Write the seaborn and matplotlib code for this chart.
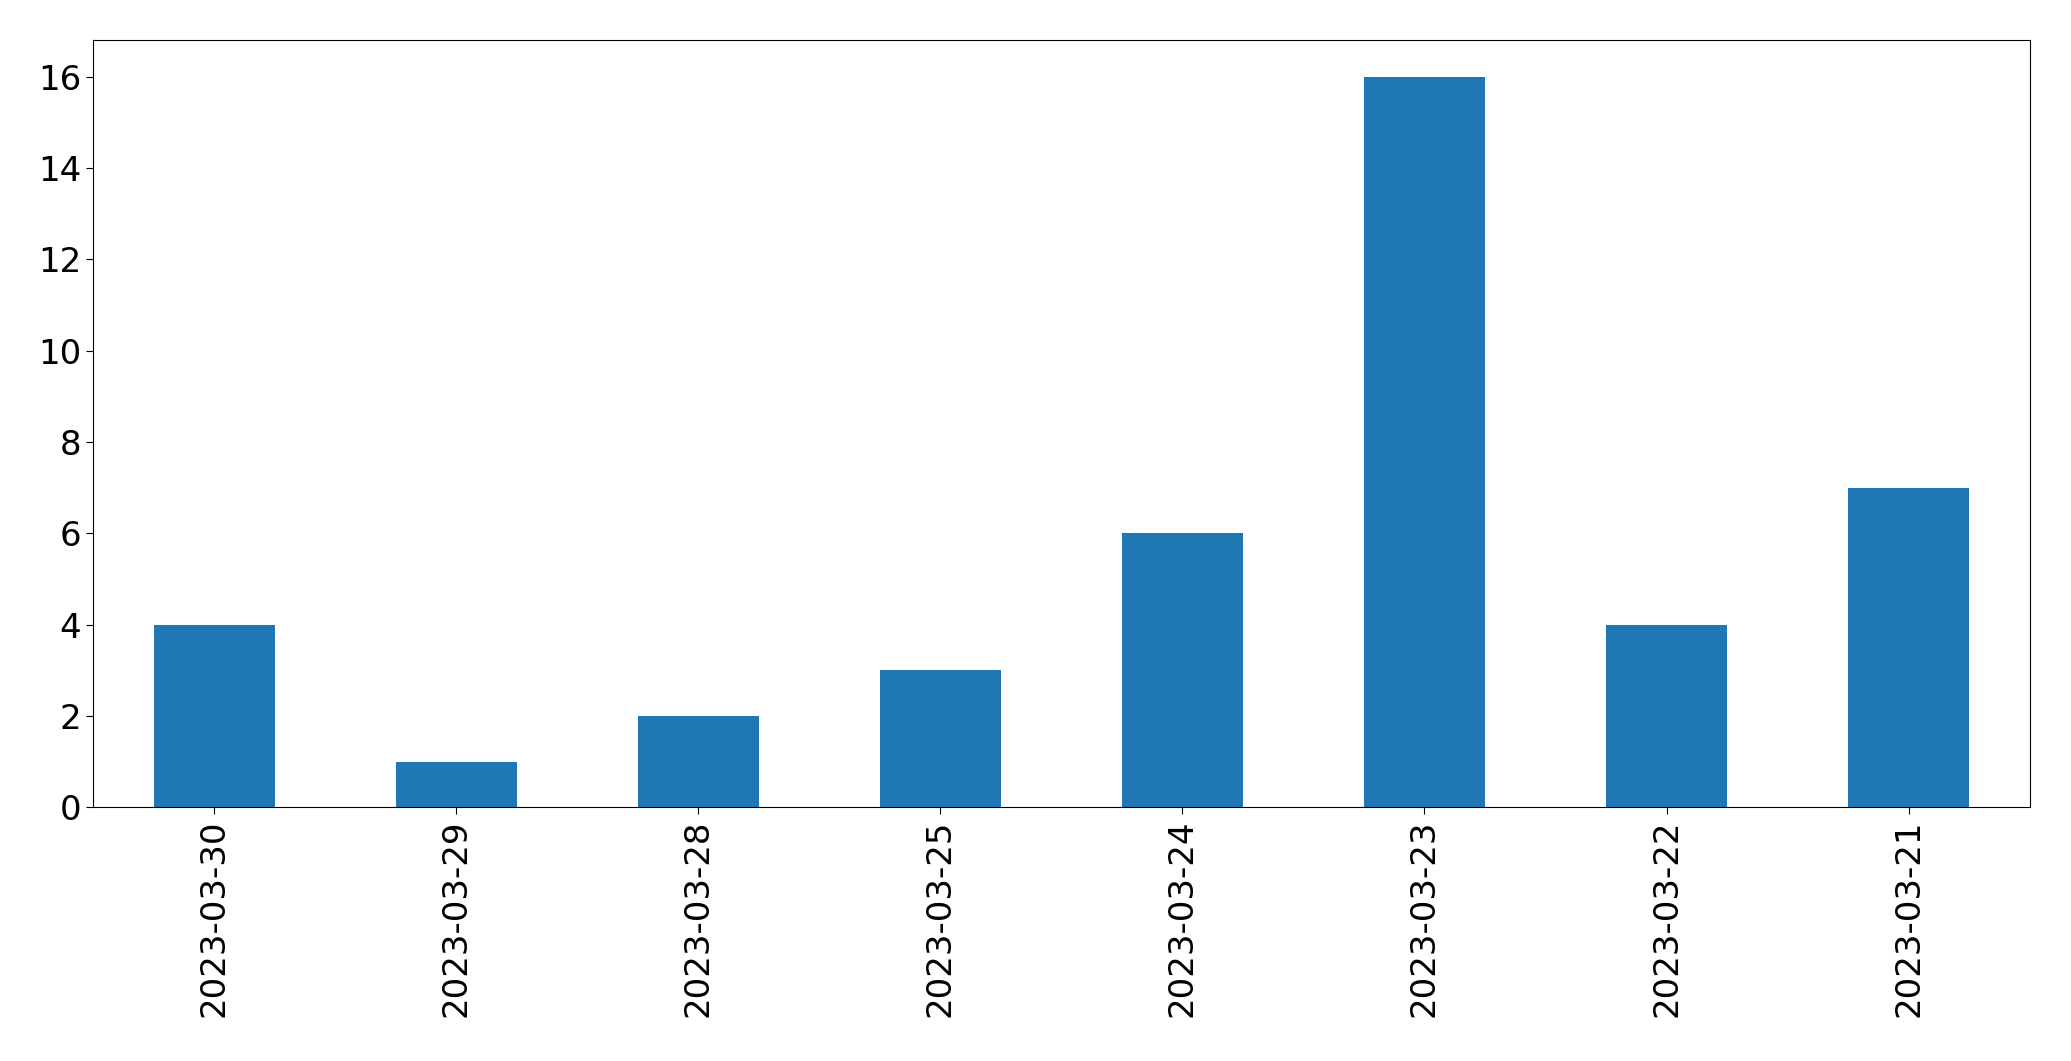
import matplotlib
matplotlib.use("Agg")
import matplotlib.pyplot as plt
import seaborn as sns
import pandas as pd

dates = ["2023-03-30", "2023-03-29", "2023-03-28", "2023-03-25",
         "2023-03-24", "2023-03-23", "2023-03-22", "2023-03-21"]
counts = [4, 1, 2, 3, 6, 16, 4, 7]

df = pd.DataFrame({"date": dates, "count": counts})

fig = plt.figure(figsize=(20.71, 10.61), dpi=100)
ax = fig.add_axes([0.045, 0.239, 0.935, 0.723])
sns.barplot(data=df, x="date", y="count", order=dates, color="#1f77b4",
            saturation=1, width=0.5, ax=ax)
ax.set_xlim(-0.5, len(dates) - 0.5)
ax.set_ylim(0, max(counts) * 1.05)
ax.set_xlabel("")
ax.set_ylabel("")
ax.tick_params(axis="both", labelsize=24.5, length=5)
plt.setp(ax.get_xticklabels(), rotation=90)
fig.savefig("out.png", dpi=100)
